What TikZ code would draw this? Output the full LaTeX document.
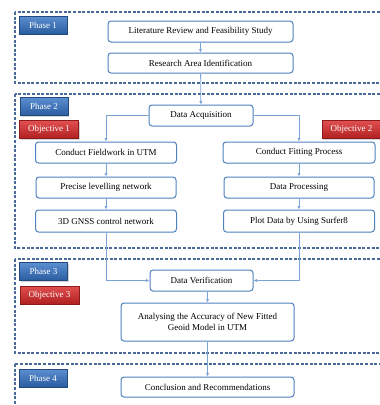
\documentclass[tikz,border=0pt]{standalone}
\usepackage{fontspec}
\setmainfont{Liberation Serif}
\usepackage{tikz}
\usetikzlibrary{positioning, arrows.meta, shadows}

\definecolor{boxblue}{HTML}{4F81BD}
\definecolor{linkblue}{HTML}{7BA4D6}
\definecolor{framegray}{HTML}{4A6A99}
\definecolor{phasetop}{HTML}{5B8FD0}
\definecolor{phasebot}{HTML}{2A5CA0}
\definecolor{objtop}{HTML}{E05050}
\definecolor{objbot}{HTML}{B02020}

\begin{document}
\begin{tikzpicture}[
    x=1pt, y=-1pt,
    box/.style={
        draw=boxblue,
        rounded corners=3pt,
        line width=1pt,
        fill=white,
        align=center,
        font=\fontsize{9}{11}\selectfont,
        inner sep=2pt
    },
    phase/.style={
        top color=phasetop,
        bottom color=phasebot,
        draw=phasebot!80!black,
        line width=0.3pt,
        text=white,
        font=\fontsize{9}{10}\selectfont,
        minimum width=48pt,
        minimum height=18pt,
        drop shadow={opacity=0.35, shadow xshift=1.2pt, shadow yshift=-1.2pt}
    },
    objective/.style={
        phase,
        top color=objtop,
        bottom color=objbot,
        draw=objbot!80!black,
        minimum width=59pt
    },
    frame/.style={draw=framegray, line width=1.1pt, dash pattern=on 3pt off 1.6pt},
    arrow/.style={-{Latex[length=3.5pt,width=3.5pt]}, draw=linkblue, line width=0.8pt}
]

\useasboundingbox (0,0) rectangle (380,405);
\clip (0,0) rectangle (380,405);

% --- Marcos de las fases ---
\draw[frame] (15,12) rectangle (400,83);
\draw[frame] (15,94) rectangle (400,248);
\draw[frame] (15,259) rectangle (400,353);
\draw[frame] (15,364) rectangle (400,420);

% --- Etiquetas de fase y objetivo ---
\node[phase] (ph1) at (43,25) {Phase 1};
\node[phase] (ph2) at (44,106.5) {Phase 2};
\node[objective] (obj1) at (49,129.5) {Objective 1};
\node[objective] (obj2) at (351.5,129.5) {Objective 2};
\node[phase] (ph3) at (43.5,271.5) {Phase 3};
\node[objective] (obj3) at (49.5,295) {Objective 3};
\node[phase] (ph4) at (43,378) {Phase 4};

% --- Nodos ---
\node[box, minimum width=185pt, minimum height=21pt] (lit) at (200.5,31.5)
    {Literature Review and Feasibility Study};
\node[box, minimum width=185pt, minimum height=20pt] (area) at (200.5,63)
    {Research Area Identification};
\node[box, minimum width=104pt, minimum height=21pt] (acq) at (201,115.5)
    {Data Acquisition};
\node[box, minimum width=141pt, minimum height=21pt] (field) at (106,152.5)
    {Conduct Fieldwork in UTM};
\node[box, minimum width=140pt, minimum height=21pt] (level) at (106,187.5)
    {Precise levelling network};
\node[box, minimum width=141pt, minimum height=22pt] (gnss) at (106,221)
    {3D GNSS control network};
\node[box, minimum width=152pt, minimum height=21pt] (fit) at (299,152.5)
    {Conduct Fitting Process};
\node[box, minimum width=150pt, minimum height=21pt] (proc) at (299,187.5)
    {Data Processing};
\node[box, minimum width=151pt, minimum height=22pt] (plot) at (299,221)
    {Plot Data by Using Surfer8};
\node[box, minimum width=103pt, minimum height=21pt] (verif) at (201.5,280.5)
    {Data Verification};
\node[box, minimum width=173pt, minimum height=38pt] (acc) at (207.5,322)
    {Analysing the Accuracy of New Fitted\\Geoid Model in UTM};
\node[box, minimum width=173pt, minimum height=20pt] (concl) at (207.5,387)
    {Conclusion and Recommendations};

% --- Flechas ---
\draw[arrow] (lit) -- (area);
\draw[arrow] (area) -- (acq);
\draw[arrow] (acq.west) -| (field.north);
\draw[arrow] (acq.east) -| (fit.north);
\draw[arrow] (field) -- (level);
\draw[arrow] (level) -- (gnss);
\draw[arrow] (fit) -- (proc);
\draw[arrow] (proc) -- (plot);
\draw[arrow] (gnss.south) |- (verif.west);
\draw[arrow] (plot.south) |- (verif.east);
\draw[arrow] (verif.south -| acc.north) -- (acc.north);
\draw[arrow] (acc) -- (concl);

\end{tikzpicture}
\end{document}
